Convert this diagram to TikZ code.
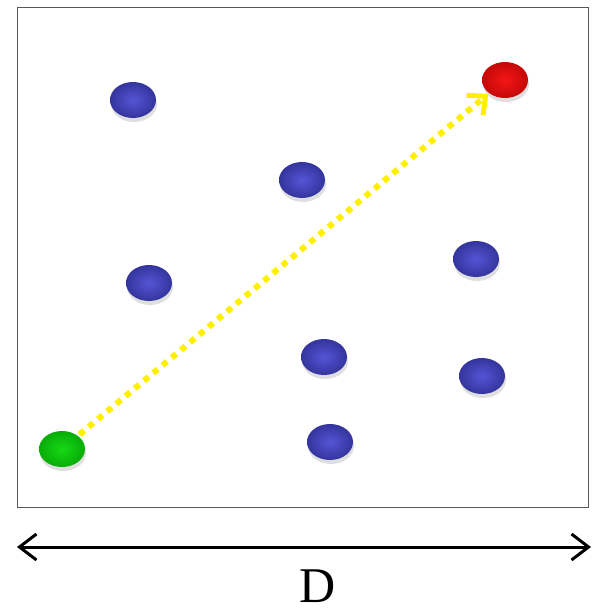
\documentclass[tikz,border=0pt]{standalone}
\usepackage{fontspec}
\setmainfont{Liberation Serif}
\usepackage{tikz}
\usetikzlibrary{shapes.geometric, arrows.meta, shadows}
\definecolor{ballblue}{RGB}{70,70,210}
\definecolor{ballgreen}{RGB}{10,215,10}
\definecolor{ballred}{RGB}{245,10,10}
\definecolor{pathyellow}{RGB}{255,240,0}
\tikzset{
    ball/.style={ellipse, minimum width=46pt, minimum height=36pt, inner sep=0pt,
        drop shadow={shadow xshift=1pt, shadow yshift=-4pt, opacity=0.25}},
    sensor/.style={ball, inner color=ballblue!92!white, outer color=ballblue!75!black},
    source/.style={ball, inner color=ballgreen!95!white, outer color=ballgreen!80!black},
    target/.style={ball, inner color=ballred!95!white, outer color=ballred!80!black},
    route/.style={pathyellow, line width=6pt, dash pattern=on 6pt off 6pt,
        -{Straight Barb[length=14pt, width=26pt, line width=5pt]}},
    span/.style={line width=3pt, {Straight Barb[length=17pt, width=26pt]}-{Straight Barb[length=17pt, width=26pt]}}
}
\begin{document}
\begin{tikzpicture}[x=1pt, y=-1pt]
    \useasboundingbox (0,0) rectangle (592,613);
    \fill[white] (0,0) rectangle (592,613);
    % field
    \draw[gray!70!black, line width=0.8pt] (17,7) rectangle (588,507);
    \node (b1) [sensor] at (133,100) {};
    \node (b2) [sensor] at (302,180) {};
    \node (b3) [sensor] at (149,283) {};
    \node (b4) [sensor] at (476,259) {};
    \node (b5) [sensor] at (324,357) {};
    \node (b6) [sensor] at (482,376) {};
    \node (b7) [sensor] at (330,442) {};
    \node (start) [source] at (62,449) {};
    \node (goal) [target] at (505,80) {};

    \draw [route, shorten <=2pt, shorten >=1pt] (start) -- (goal);

    % width of the field
    \coordinate (left) at (17,547);
    \coordinate (right) at (591,547);
    \draw [span] (left) -- (right);
    \node (dlabel) [inner sep=0pt] at (318,586) {\fontsize{50}{50}\selectfont D};
\end{tikzpicture}
\end{document}
